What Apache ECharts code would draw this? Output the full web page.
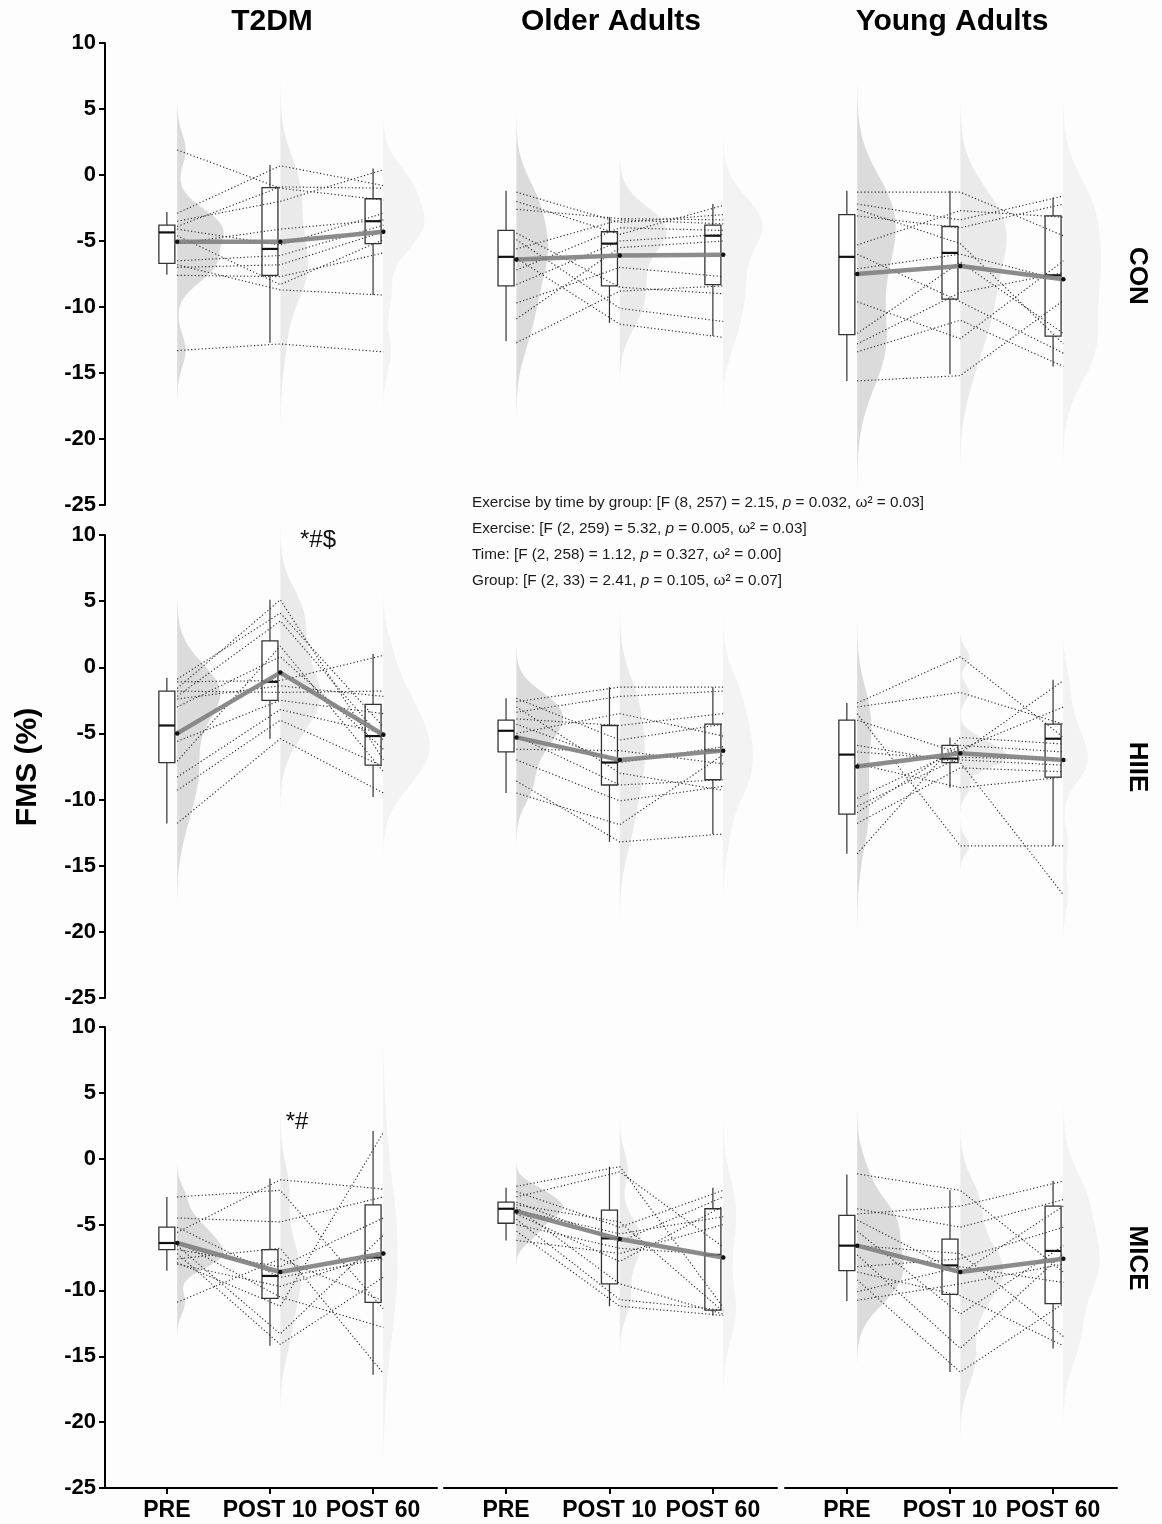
<!DOCTYPE html>
<html><head><meta charset="utf-8">
<script src="https://cdn.jsdelivr.net/npm/echarts@6/dist/echarts.min.js"></script>
<style>html,body{margin:0;padding:0;background:#fdfdfd}#c{width:1162px;height:1524px}</style>
</head><body><div id="c"></div>
<script>
const timepoints = ['PRE', 'POST 10', 'POST 60'];
const groups = ['T2DM', 'Older Adults', 'Young Adults'];
const exercises = ['CON', 'HIIE', 'MICE'];

// individual participants: [PRE, POST 10, POST 60] (FMS %)
const t2dmCON = [[1.9,-1.0,-1.9],[-2.9,0.7,-0.8],[-3.5,-2.0,0.4],[-3.9,-0.9,-1.0],[-4.1,-5.3,-2.9],[-4.6,-8.3,-4.9],[-5.2,-4.1,-3.4],[-6.5,-6.1,-3.8],[-6.8,-8.7,-9.1],[-7.0,-6.8,-4.3],[-7.6,-7.7,-5.9],[-13.3,-12.8,-13.4]];
const olderCON = [[-1.3,-3.6,-3.0],[-2.0,-4.5,-2.3],[-2.6,-3.3,-3.4],[-4.4,-8.5,-9.0],[-4.9,-10.1,-11.1],[-5.6,-3.4,-3.7],[-6.3,-11.3,-12.3],[-7.2,-4.0,-4.2],[-8.3,-5.0,-4.5],[-9.7,-7.0,-7.7],[-10.9,-5.5,-5.0],[-12.7,-8.8,-8.4]];
const youngCON = [[-1.3,-1.3,-4.6],[-2.2,-3.4,-1.6],[-2.6,-5.2,-12.8],[-3.1,-4.0,-2.2],[-5.3,-2.7,-3.2],[-6.0,-9.6,-13.5],[-7.1,-6.0,-8.0],[-9.6,-12.4,-6.5],[-12.0,-6.6,-12.0],[-12.8,-8.9,-7.4],[-13.4,-11.0,-14.5],[-15.6,-15.2,-9.5]];
const t2dmHIIE = [[-0.9,4.1,-4.5],[-1.1,-1.0,0.9],[-1.6,5.1,-7.0],[-1.8,-1.9,-1.8],[-2.2,3.5,-5.5],[-2.4,-1.4,-2.2],[-3.0,0.8,-6.2],[-5.6,-2.5,-3.5],[-7.1,1.6,-7.9],[-8.3,-3.2,-5.0],[-9.3,-4.0,-7.5],[-11.8,-5.4,-9.5]];
const olderHIIE = [[-2.35,-5.5,-4.3],[-2.6,-1.5,-1.5],[-3.0,-8.0,-9.3],[-3.4,-2.2,-1.8],[-3.9,-4.4,-3.5],[-4.3,-7.2,-6.0],[-5.0,-3.5,-5.2],[-5.2,-8.9,-8.5],[-6.2,-6.3,-7.3],[-7.0,-10.1,-9.0],[-8.6,-13.2,-12.6],[-9.5,-11.9,-6.6]];
const youngHIIE = [[-2.7,0.8,-5.3],[-3.0,-1.9,-4.3],[-3.5,-13.5,-13.5],[-4.0,-6.5,-1.0],[-5.9,-7.2,-17.2],[-6.4,-7.0,-7.4],[-7.3,-9.1,-8.3],[-9.9,-6.2,-3.0],[-10.5,-6.8,-7.0],[-11.0,-5.9,-6.4],[-11.8,-7.6,-7.9],[-14.1,-5.3,-5.8]];
const t2dmMICE = [[-2.9,-2.4,-11.4],[-4.5,-4.8,-2.9],[-5.2,-9.0,-7.6],[-5.6,-1.6,-2.3],[-6.3,-10.5,-12.8],[-6.6,-13.3,-5.8],[-6.9,-8.2,-4.5],[-7.2,-14.1,-9.0],[-7.6,-6.8,-16.3],[-7.9,-11.2,2.0],[-8.0,-9.7,-7.2],[-10.9,-7.6,-10.8]];
const olderMICE = [[-2.1,-0.6,-11.3],[-2.5,-5.2,-2.4],[-2.9,-1.0,-6.7],[-3.3,-6.3,-2.9],[-3.5,-4.8,-11.6],[-3.7,-9.5,-11.8],[-3.9,-5.7,-4.4],[-4.2,-7.8,-3.6],[-4.6,-10.7,-11.5],[-5.0,-6.8,-7.3],[-5.5,-11.2,-11.9],[-6.2,-7.2,-5.0]];
const youngMICE = [[-1.15,-2.4,-8.6],[-3.8,-5.2,-3.1],[-4.2,-3.6,-1.7],[-4.65,-8.7,-3.6],[-5.5,-11.8,-6.6],[-6.6,-7.2,-13.5],[-7.3,-14.4,-7.2],[-8.2,-7.6,-5.2],[-8.6,-10.4,-14.2],[-9.2,-16.2,-11.0],[-10.1,-8.2,-9.4],[-10.75,-9.5,-8.0]];

// box statistics per time point: [lower whisker, Q1, median, Q3, upper whisker]
const boxT2dmCON = [[-7.55,-6.7,-4.35,-3.8,-2.8],[-12.7,-7.6,-5.6,-0.95,0.75],[-9.1,-5.2,-3.5,-1.8,0.5]];
const boxOlderCON = [[-12.6,-8.4,-6.2,-4.2,-1.2],[-11.2,-8.4,-5.2,-4.3,-3.2],[-12.2,-8.3,-4.6,-3.8,-2.2]];
const boxYoungCON = [[-15.6,-12.1,-6.2,-3.0,-1.2],[-15.1,-9.4,-5.9,-3.9,-1.2],[-14.5,-12.2,-7.6,-3.1,-1.7]];
const boxT2dmHIIE = [[-11.8,-7.2,-4.4,-1.8,-0.8],[-5.4,-2.5,-1.1,2.0,5.1],[-9.8,-7.4,-5.2,-2.8,1.0]];
const boxOlderHIIE = [[-9.5,-6.4,-4.8,-4.0,-2.35],[-13.2,-8.9,-7.2,-4.4,-1.5],[-12.6,-8.5,-6.3,-4.3,-1.5]];
const boxYoungHIIE = [[-14.1,-11.1,-6.6,-4.0,-2.7],[-9.1,-7.2,-6.9,-5.9,-5.3],[-13.5,-8.3,-5.4,-4.3,-0.95]];
const boxT2dmMICE = [[-8.5,-6.9,-6.4,-5.2,-2.9],[-14.2,-10.6,-8.9,-6.9,-1.5],[-16.4,-10.9,-7.5,-3.5,2.1]];
const boxOlderMICE = [[-6.2,-4.9,-3.8,-3.3,-2.2],[-11.2,-9.5,-6.05,-3.9,-0.6],[-11.9,-11.5,-7.3,-3.8,-2.2]];
const boxYoungMICE = [[-10.8,-8.5,-6.6,-4.3,-1.2],[-16.2,-10.3,-8.1,-6.1,-2.4],[-14.4,-11.0,-7.0,-3.6,-1.7]];

// group means per time point
const meanT2dmCON = [-5.05,-5.05,-4.3];
const meanOlderCON = [-6.4,-6.1,-6.05];
const meanYoungCON = [-7.5,-6.9,-7.9];
const meanT2dmHIIE = [-5.0,-0.4,-5.1];
const meanOlderHIIE = [-5.3,-7.0,-6.3];
const meanYoungHIIE = [-7.5,-6.5,-7.0];
const meanT2dmMICE = [-6.4,-8.6,-7.2];
const meanOlderMICE = [-4.0,-6.1,-7.5];
const meanYoungMICE = [-6.6,-8.6,-7.6];

const significance = [{row:1, col:0, tp:2, text:'*#$'}, {row:2, col:0, tp:2, text:'*#'}];
const statLines = [
  'Exercise by time by group: [F (8, 257) = 2.15, {i|p} = 0.032, \u03c9\u00b2 = 0.03]',
  'Exercise: [F (2, 259) = 5.32, {i|p} = 0.005, \u03c9\u00b2 = 0.03]',
  'Time: [F (2, 258) = 1.12, {i|p} = 0.327, \u03c9\u00b2 = 0.00]',
  'Group: [F (2, 33) = 2.41, {i|p} = 0.105, \u03c9\u00b2 = 0.07]'
];

const panels = [
  {sub:t2dmCON, box:boxT2dmCON, mean:meanT2dmCON},
  {sub:olderCON, box:boxOlderCON, mean:meanOlderCON},
  {sub:youngCON, box:boxYoungCON, mean:meanYoungCON},
  {sub:t2dmHIIE, box:boxT2dmHIIE, mean:meanT2dmHIIE},
  {sub:olderHIIE, box:boxOlderHIIE, mean:meanOlderHIIE},
  {sub:youngHIIE, box:boxYoungHIIE, mean:meanYoungHIIE},
  {sub:t2dmMICE, box:boxT2dmMICE, mean:meanT2dmMICE},
  {sub:olderMICE, box:boxOlderMICE, mean:meanOlderMICE},
  {sub:youngMICE, box:boxYoungMICE, mean:meanYoungMICE}
];

// ---- layout / style ----
const FONT = "'Liberation Sans', Arial, sans-serif";
const colLeft = [105, 444, 785], colWidth = [332, 333, 332];
const rowTop = [43, 535, 1027], rowHeight = [462, 463, 461];
const NUDGE = 0.1, VMAX = 0.45, BOXW = 0.155;
const violinColors = ['#dbdbdb', '#eaeaea', '#f3f3f3'];

// ---- density (Gaussian KDE, R bw.nrd0, cut = 3) ----
function quantile7(sorted, p) {
  const h = (sorted.length - 1) * p, lo = Math.floor(h), hi = Math.ceil(h);
  return sorted[lo] + (h - lo) * (sorted[hi] - sorted[lo]);
}
function nrd0(x) {
  const n = x.length, m = x.reduce((a, b) => a + b, 0) / n;
  const sd = Math.sqrt(x.reduce((a, b) => a + (b - m) * (b - m), 0) / (n - 1));
  const s = x.slice().sort((a, b) => a - b);
  const iqr = quantile7(s, 0.75) - quantile7(s, 0.25);
  let lo = Math.min(sd, iqr / 1.34);
  if (!(lo > 0)) lo = sd || 1;
  return 0.9 * lo * Math.pow(n, -0.2);
}
function kde(x) {
  const bw = nrd0(x), n = x.length;
  const a = Math.min(...x) - 3 * bw, b = Math.max(...x) + 3 * bw, N = 160;
  const out = [];
  for (let k = 0; k <= N; k++) {
    const y = a + (b - a) * k / N;
    let s = 0;
    x.forEach(v => { const z = (y - v) / bw; s += Math.exp(-0.5 * z * z); });
    out.push([y, s / (n * bw * Math.sqrt(2 * Math.PI))]);
  }
  return out;
}

const grid = [], xAxis = [], yAxis = [], series = [];
panels.forEach((p, i) => {
  const r = Math.floor(i / 3), c = i % 3;
  grid.push({left: colLeft[c], top: rowTop[r], width: colWidth[c], height: rowHeight[r], containLabel: false});
  const bottomRow = r === 2;
  xAxis.push({
    type: 'value', gridIndex: i, min: 0.4, max: 3.62, show: bottomRow,
    splitLine: {show: false},
    axisLine: {show: bottomRow, onZero: false, lineStyle: {color: '#000', width: 2}},
    axisTick: {show: bottomRow, customValues: [1, 2, 3], length: 6, lineStyle: {color: '#000', width: 2}},
    axisLabel: {show: bottomRow, customValues: [1, 2, 3], formatter: v => timepoints[Math.round(v) - 1],
      color: '#000', fontWeight: 'bold', fontSize: 23, fontFamily: FONT, margin: 11}
  });
  const leftCol = c === 0;
  yAxis.push({
    type: 'value', gridIndex: i, min: -25, max: 10, interval: 5, show: leftCol,
    splitLine: {show: false},
    axisLine: {show: leftCol, lineStyle: {color: '#000', width: 2}},
    axisTick: {show: leftCol, length: 6, lineStyle: {color: '#000', width: 2}},
    axisLabel: {show: leftCol, color: '#000', fontWeight: 'bold', fontSize: 22, fontFamily: FONT, margin: 9}
  });

  // half violins
  const dens = [0, 1, 2].map(t => kde(p.sub.map(s => s[t])));
  const maxD = Math.max(...dens.map(d => Math.max(...d.map(q => q[1]))));
  series.push({
    type: 'custom', xAxisIndex: i, yAxisIndex: i, z: 1, silent: true,
    data: [[1, -5], [2, -5], [3, -5]],
    renderItem: (params, api) => {
      const t = params.dataIndex, d = dens[t], x0 = t + 1 + NUDGE, pts = [];
      d.forEach(([y, v]) => pts.push(api.coord([x0 + v / maxD * VMAX, y])));
      for (let k = d.length - 1; k >= 0; k--) pts.push(api.coord([x0, d[k][0]]));
      return {type: 'polygon', shape: {points: pts}, style: {fill: violinColors[t], stroke: null}};
    }
  });

  // box plots
  series.push({
    type: 'custom', xAxisIndex: i, yAxisIndex: i, z: 2, silent: true,
    encode: {x: 0, y: [1, 2, 3, 4, 5]},
    data: p.box.map((b, t) => [t + 1].concat(b)),
    renderItem: (params, api) => {
      const x = api.value(0);
      const pMin = api.coord([x, api.value(1)]), pQ1 = api.coord([x, api.value(2)]);
      const pMd = api.coord([x, api.value(3)]), pQ3 = api.coord([x, api.value(4)]);
      const pMax = api.coord([x, api.value(5)]);
      const hw = api.size([BOXW, 0])[0] / 2;
      return {type: 'group', children: [
        {type: 'line', shape: {x1: pMin[0], y1: pMin[1], x2: pMax[0], y2: pMax[1]}, style: {stroke: '#333', lineWidth: 1.2}},
        {type: 'rect', shape: {x: pQ1[0] - hw, y: pQ3[1], width: 2 * hw, height: pQ1[1] - pQ3[1]},
          style: {fill: '#fff', stroke: '#333', lineWidth: 1.3}},
        {type: 'line', shape: {x1: pMd[0] - hw, y1: pMd[1], x2: pMd[0] + hw, y2: pMd[1]}, style: {stroke: '#111', lineWidth: 2.2}}
      ]};
    }
  });

  // individual trajectories
  p.sub.forEach(s => {
    series.push({
      type: 'line', xAxisIndex: i, yAxisIndex: i, z: 3, silent: true,
      data: s.map((v, t) => [t + 1 + NUDGE, v]), symbol: 'none',
      lineStyle: {color: '#2e2e2e', width: 1.15, type: [1.2, 2.3]}
    });
  });

  // group mean
  series.push({
    type: 'line', xAxisIndex: i, yAxisIndex: i, z: 4, silent: true,
    data: p.mean.map((v, t) => [t + 1 + NUDGE, v]),
    symbol: 'circle', symbolSize: 4.5, itemStyle: {color: '#111'},
    lineStyle: {color: '#808080', width: 4.5, opacity: 0.9}
  });
});

// texts
const colCenter = [272, 611, 952], rowCenter = [276, 767, 1258];
const graphic = [];
groups.forEach((g, c) => graphic.push({type: 'text', x: colCenter[c], y: 22,
  style: {text: g, font: `bold 30px ${FONT}`, fill: '#000', align: 'center', verticalAlign: 'middle'}}));
exercises.forEach((e, r) => graphic.push({type: 'text', x: 1137, y: rowCenter[r], rotation: -Math.PI / 2,
  style: {text: e, font: `bold 26px ${FONT}`, fill: '#000', align: 'center', verticalAlign: 'middle'}}));
graphic.push({type: 'text', x: 28, y: 767, rotation: Math.PI / 2,
  style: {text: 'FMS (%)', font: `bold 30px ${FONT}`, fill: '#000', align: 'center', verticalAlign: 'middle'}});
const sigPos = [[318, 540], [297, 1122]];
significance.forEach((s, k) => graphic.push({type: 'text', x: sigPos[k][0], y: sigPos[k][1],
  style: {text: s.text, font: `24px ${FONT}`, fill: '#111', align: 'center', verticalAlign: 'middle'}}));
statLines.forEach((t, k) => graphic.push({type: 'text', x: 472, y: 503 + k * 25.8,
  style: {text: t, font: `15.3px ${FONT}`, fill: '#1a1a1a', align: 'left', verticalAlign: 'middle',
    rich: {i: {fontStyle: 'italic', fontSize: 15.3, fontFamily: FONT, fill: '#1a1a1a'}}}}));

const chart = echarts.init(document.getElementById('c'), null, {renderer: 'canvas'});
chart.setOption({
  backgroundColor: '#fdfdfd',
  animation: false,
  grid, xAxis, yAxis, series, graphic
});
</script></body></html>
